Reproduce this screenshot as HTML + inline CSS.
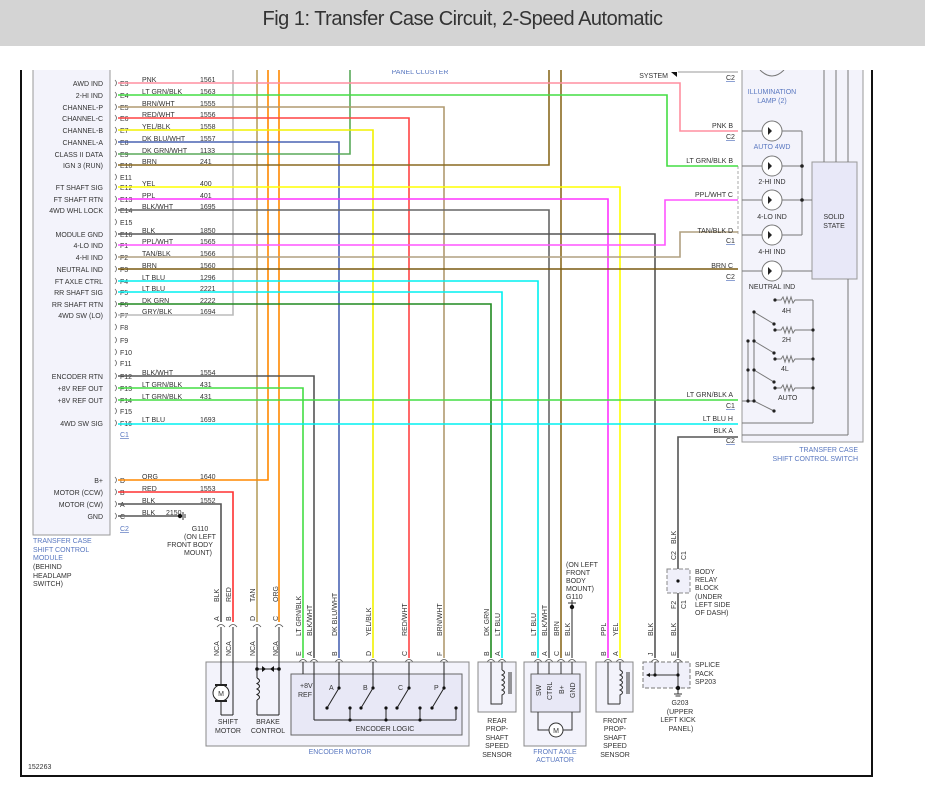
<!DOCTYPE html>
<html><head><meta charset="utf-8">
<style>
body{margin:0;width:925px;height:786px;background:#fff;overflow:hidden}
#hdr{position:absolute;left:0;top:0;width:925px;height:46px;background:#d4d4d4;text-align:center;font:20px "Liberation Sans",sans-serif;line-height:38px;color:#333;letter-spacing:-0.5px}
svg{position:absolute;left:0;top:0}
text{font-family:"Liberation Sans",sans-serif;font-size:7px;fill:#333}
.b{fill:#5a78c0}
.w{fill:none;stroke-width:1.6}
</style></head><body>
<div id="hdr">Fig 1: Transfer Case Circuit, 2-Speed Automatic</div>
<svg width="925" height="786" viewBox="0 0 925 786">
<defs><clipPath id="cp"><rect x="20" y="70" width="853" height="707"/></clipPath></defs>
<!-- frame -->
<line x1="21" y1="70" x2="21" y2="776" stroke="#111" stroke-width="2"/>
<line x1="20" y1="776" x2="873" y2="776" stroke="#111" stroke-width="2"/>
<line x1="872" y1="70" x2="872" y2="776" stroke="#111" stroke-width="2"/>
<g clip-path="url(#cp)">
<!-- left module -->
<rect x="33" y="60" width="77" height="475" fill="#f3f3fb" stroke="#999"/>
<!-- right switch box -->
<rect x="742" y="60" width="121" height="382" fill="#f3f3fb" stroke="#999"/>
<rect x="812" y="162" width="45" height="117" fill="#e8e8f8" stroke="#999"/>
<text x="834" y="219" text-anchor="middle">SOLID</text><text x="834" y="228" text-anchor="middle">STATE</text>
<g stroke="#777" fill="none">
<line x1="824" y1="60" x2="824" y2="162"/><line x1="836" y1="60" x2="836" y2="162"/><line x1="848" y1="60" x2="848" y2="162"/>
<line x1="848" y1="279" x2="848" y2="435"/><line x1="848" y1="435" x2="742" y2="435"/>
<line x1="742" y1="131" x2="802" y2="131"/><line x1="742" y1="166" x2="802" y2="166"/><line x1="742" y1="200" x2="812" y2="200"/><line x1="742" y1="235" x2="802" y2="235"/><line x1="742" y1="271" x2="812" y2="271"/>
<line x1="802" y1="131" x2="802" y2="235"/>
<circle cx="772" cy="131" r="10" fill="#fff"/><circle cx="772" cy="166" r="10" fill="#fff"/><circle cx="772" cy="200" r="10" fill="#fff"/><circle cx="772" cy="235" r="10" fill="#fff"/><circle cx="772" cy="271" r="10" fill="#fff"/>
<path d="M760 70 Q772 82 784 70"/>
<!-- switches -->
<line x1="813" y1="300" x2="813" y2="423"/><line x1="742" y1="423" x2="813" y2="423"/>
<path d="M775 300 H781 l2 -3 l2 6 l2 -6 l2 6 l2 -6 l2 6 l2 -3 H813"/>
<path d="M775 330 H781 l2 -3 l2 6 l2 -6 l2 6 l2 -6 l2 6 l2 -3 H813"/>
<path d="M775 359 H781 l2 -3 l2 6 l2 -6 l2 6 l2 -6 l2 6 l2 -3 H813"/>
<path d="M775 388 H781 l2 -3 l2 6 l2 -6 l2 6 l2 -6 l2 6 l2 -3 H813"/>
<line x1="748" y1="341" x2="748" y2="401"/><line x1="754" y1="312" x2="754" y2="401"/>
<line x1="754" y1="312" x2="774" y2="324"/><line x1="754" y1="341" x2="774" y2="353"/><line x1="754" y1="370" x2="774" y2="382"/><line x1="754" y1="401" x2="774" y2="411"/>
<line x1="742" y1="401" x2="754" y2="401"/>
</g>
<g fill="#222"><circle cx="802" cy="166" r="1.8"/><circle cx="802" cy="200" r="1.8"/>
<circle cx="775" cy="300" r="1.6"/><circle cx="775" cy="330" r="1.6"/><circle cx="775" cy="359" r="1.6"/><circle cx="775" cy="388" r="1.6"/>
<circle cx="813" cy="330" r="1.6"/><circle cx="813" cy="359" r="1.6"/><circle cx="813" cy="388" r="1.6"/>
<circle cx="754" cy="312" r="1.6"/><circle cx="748" cy="341" r="1.6"/><circle cx="754" cy="341" r="1.6"/><circle cx="748" cy="370" r="1.6"/><circle cx="754" cy="370" r="1.6"/><circle cx="748" cy="401" r="1.6"/><circle cx="754" cy="401" r="1.6"/>
<circle cx="774" cy="324" r="1.6"/><circle cx="774" cy="353" r="1.6"/><circle cx="774" cy="382" r="1.6"/><circle cx="774" cy="411" r="1.6"/>
<path d="M768 127 l4 4 l-4 4z M768 162 l4 4 l-4 4z M768 196 l4 4 l-4 4z M768 231 l4 4 l-4 4z M768 267 l4 4 l-4 4z"/>
</g>
<text class="b" x="772" y="94" text-anchor="middle">ILLUMINATION</text><text class="b" x="772" y="103" text-anchor="middle">LAMP (2)</text>
<text class="b" x="772" y="149" text-anchor="middle">AUTO 4WD</text>
<text x="772" y="184" text-anchor="middle">2-HI IND</text><text x="772" y="219" text-anchor="middle">4-LO IND</text><text x="772" y="254" text-anchor="middle">4-HI IND</text><text x="772" y="289" text-anchor="middle">NEUTRAL IND</text>
<text x="782" y="313">4H</text><text x="782" y="342">2H</text><text x="781" y="371">4L</text><text x="778" y="400">AUTO</text>
<text class="b" x="858" y="452" text-anchor="end">TRANSFER CASE</text><text class="b" x="858" y="461" text-anchor="end">SHIFT CONTROL SWITCH</text>
<line x1="738" y1="166" x2="738" y2="236" stroke="#aaa" stroke-dasharray="3,2"/>
<text class="b" x="420" y="74" text-anchor="middle">PANEL CLUSTER</text>
<text x="668" y="78" text-anchor="end">SYSTEM</text><path d="M671 72 h6 v5z" fill="#111"/>
<line x1="678" y1="72" x2="738" y2="72" stroke="#999"/>
<!-- left pin labels -->
<g text-anchor="end">
<text x="103" y="86">AWD IND</text><text x="103" y="98">2-HI IND</text><text x="103" y="110">CHANNEL-P</text><text x="103" y="121">CHANNEL-C</text><text x="103" y="133">CHANNEL-B</text><text x="103" y="145">CHANNEL-A</text><text x="103" y="157">CLASS II DATA</text><text x="103" y="168">IGN 3 (RUN)</text>
<text x="103" y="190">FT SHAFT SIG</text><text x="103" y="202">FT SHAFT RTN</text><text x="103" y="213">4WD WHL LOCK</text>
<text x="103" y="237">MODULE GND</text><text x="103" y="248">4-LO IND</text><text x="103" y="260">4-HI IND</text><text x="103" y="272">NEUTRAL IND</text><text x="103" y="284">FT AXLE CTRL</text><text x="103" y="295">RR SHAFT SIG</text><text x="103" y="307">RR SHAFT RTN</text><text x="103" y="318">4WD SW (LO)</text>
<text x="103" y="379">ENCODER RTN</text><text x="103" y="391">+8V REF OUT</text><text x="103" y="403">+8V REF OUT</text><text x="103" y="426">4WD SW SIG</text>
<text x="103" y="483">B+</text><text x="103" y="495">MOTOR (CCW)</text><text x="103" y="507">MOTOR (CW)</text><text x="103" y="519">GND</text>
</g>
<g>
<text x="120" y="86">E3</text><text x="120" y="98">E4</text><text x="120" y="110">E5</text><text x="120" y="121">E6</text><text x="120" y="133">E7</text><text x="120" y="145">E8</text><text x="120" y="157">E9</text><text x="120" y="168">E10</text><text x="120" y="180">E11</text><text x="120" y="190">E12</text><text x="120" y="202">E13</text><text x="120" y="213">E14</text><text x="120" y="225">E15</text><text x="120" y="237">E16</text>
<text x="120" y="248">F1</text><text x="120" y="260">F2</text><text x="120" y="272">F3</text><text x="120" y="284">F4</text><text x="120" y="295">F5</text><text x="120" y="307">F6</text><text x="120" y="318">F7</text><text x="120" y="330">F8</text><text x="120" y="343">F9</text><text x="120" y="355">F10</text><text x="120" y="366">F11</text><text x="120" y="379">F12</text><text x="120" y="391">F13</text><text x="120" y="403">F14</text><text x="120" y="414">F15</text><text x="120" y="426">F16</text>
<text class="b" x="120" y="437" text-decoration="underline">C1</text>
<text x="120" y="483">D</text><text x="120" y="495">B</text><text x="120" y="507">A</text><text x="120" y="519">C</text>
<text class="b" x="120" y="531" text-decoration="underline">C2</text>
</g>
<g fill="none" stroke="#666" stroke-width="0.8">
<path d="M115 80q3 3 0 6M115 92q3 3 0 6M115 104q3 3 0 6M115 115q3 3 0 6M115 127q3 3 0 6M115 139q3 3 0 6M115 151q3 3 0 6M115 162q3 3 0 6M115 174q3 3 0 6M115 184q3 3 0 6M115 196q3 3 0 6M115 207q3 3 0 6M115 219q3 3 0 6M115 231q3 3 0 6M115 242q3 3 0 6M115 254q3 3 0 6M115 266q3 3 0 6M115 278q3 3 0 6M115 289q3 3 0 6M115 301q3 3 0 6M115 312q3 3 0 6M115 324q3 3 0 6M115 337q3 3 0 6M115 349q3 3 0 6M115 360q3 3 0 6M115 373q3 3 0 6M115 385q3 3 0 6M115 397q3 3 0 6M115 408q3 3 0 6M115 420q3 3 0 6M115 477q3 3 0 6M115 489q3 3 0 6M115 501q3 3 0 6M115 513q3 3 0 6"/>
</g>
<!-- wire labels -->
<g>
<text x="142" y="82">PNK</text><text x="200" y="82">1561</text>
<text x="142" y="94">LT GRN/BLK</text><text x="200" y="94">1563</text>
<text x="142" y="106">BRN/WHT</text><text x="200" y="106">1555</text>
<text x="142" y="117">RED/WHT</text><text x="200" y="117">1556</text>
<text x="142" y="129">YEL/BLK</text><text x="200" y="129">1558</text>
<text x="142" y="141">DK BLU/WHT</text><text x="200" y="141">1557</text>
<text x="142" y="153">DK GRN/WHT</text><text x="200" y="153">1133</text>
<text x="142" y="164">BRN</text><text x="200" y="164">241</text>
<text x="142" y="186">YEL</text><text x="200" y="186">400</text>
<text x="142" y="198">PPL</text><text x="200" y="198">401</text>
<text x="142" y="209">BLK/WHT</text><text x="200" y="209">1695</text>
<text x="142" y="233">BLK</text><text x="200" y="233">1850</text>
<text x="142" y="244">PPL/WHT</text><text x="200" y="244">1565</text>
<text x="142" y="256">TAN/BLK</text><text x="200" y="256">1566</text>
<text x="142" y="268">BRN</text><text x="200" y="268">1560</text>
<text x="142" y="280">LT BLU</text><text x="200" y="280">1296</text>
<text x="142" y="291">LT BLU</text><text x="200" y="291">2221</text>
<text x="142" y="303">DK GRN</text><text x="200" y="303">2222</text>
<text x="142" y="314">GRY/BLK</text><text x="200" y="314">1694</text>
<text x="142" y="375">BLK/WHT</text><text x="200" y="375">1554</text>
<text x="142" y="387">LT GRN/BLK</text><text x="200" y="387">431</text>
<text x="142" y="399">LT GRN/BLK</text><text x="200" y="399">431</text>
<text x="142" y="422">LT BLU</text><text x="200" y="422">1693</text>
<text x="142" y="479">ORG</text><text x="200" y="479">1640</text>
<text x="142" y="491">RED</text><text x="200" y="491">1553</text>
<text x="142" y="503">BLK</text><text x="200" y="503">1552</text>
<text x="142" y="515">BLK</text><text x="166" y="515">2150</text>
</g>
<!-- wires -->
<g class="w">
<polyline stroke="#bbb" points="118,315 233,315 233,60"/>
<polyline stroke="#b8a060" points="257,60 257,622"/>
<polyline stroke="#ff8800" points="118,480 268,480 268,60"/>
<polyline stroke="#ff8800" points="279,60 279,622"/>
<polyline stroke="#ff3030" points="118,492 233,492 233,622"/>
<polyline stroke="#555" points="118,504 221,504 221,622"/>
<polyline stroke="#555" points="118,516 180,516"/>
<polyline stroke="#555" points="118,376 314,376 314,658"/>
<polyline stroke="#44dd44" points="118,388 303,388 303,658"/>
<polyline stroke="#4a64b4" points="118,142 339,142 339,658"/>
<polyline stroke="#5aaa5a" points="118,154 350,154 350,60"/>
<polyline stroke="#f2f200" points="118,130 373,130 373,658"/>
<polyline stroke="#ff4444" points="118,118 409,118 409,658"/>
<polyline stroke="#b09a70" points="118,107 444,107 444,658"/>
<polyline stroke="#208a20" points="118,304 491,304 491,658"/>
<polyline stroke="#00f0f0" points="118,292 502,292 502,658"/>
<polyline stroke="#00f0f0" points="118,281 538,281 538,658"/>
<polyline stroke="#666" points="118,210 549,210 549,658"/>
<polyline stroke="#8a6a20" points="118,165 549,165 549,60"/>
<polyline stroke="#8a6a20" points="561,60 561,658"/>
<polyline stroke="#777" points="572,600 572,658"/>
<polyline stroke="#ff33ff" points="118,199 608,199 608,658"/>
<polyline stroke="#ffff00" points="118,187 620,187 620,658"/>
<polyline stroke="#555" points="118,234 655,234 655,658"/>
<polyline stroke="#ff8fa0" points="118,83 680,83 680,131 738,131"/>
<polyline stroke="#44dd44" points="118,95 667,95 667,166 738,166"/>
<polyline stroke="#ff55ff" points="118,245 665,245 665,200 738,200"/>
<polyline stroke="#b0a080" points="118,257 680,257 680,232 738,232"/>
<polyline stroke="#7a5a10" points="118,269 738,269"/>
<polyline stroke="#44dd44" points="118,400 738,400"/>
<polyline stroke="#00f0f0" points="118,424 738,424"/>
<polyline stroke="#555" points="738,437 678,437 678,658"/>
</g>
<!-- right connector labels -->
<g text-anchor="end">
<text x="733" y="128">PNK  B</text><text x="733" y="163">LT GRN/BLK  B</text><text x="733" y="197">PPL/WHT  C</text><text x="733" y="233">TAN/BLK  D</text><text x="733" y="268">BRN  C</text>
<text x="733" y="397">LT GRN/BLK  A</text><text x="733" y="421">LT BLU  H</text><text x="733" y="433">BLK  A</text>
</g>
<g class="b" text-decoration="underline"><text x="726" y="80">C2</text><text x="726" y="139">C2</text><text x="726" y="243">C1</text><text x="726" y="279">C2</text><text x="726" y="408">C1</text><text x="726" y="443">C2</text></g>
<!-- G110 ground near module -->
<circle cx="180" cy="516" r="2.2" fill="#111"/><line x1="183" y1="512" x2="183" y2="520" stroke="#333"/><line x1="185" y1="514" x2="185" y2="518" stroke="#333"/>
<g text-anchor="middle"><text x="200" y="531">G110</text><text x="200" y="539">(ON LEFT</text><text x="190" y="547">FRONT BODY</text><text x="198" y="555">MOUNT)</text></g>
<text class="b" x="33" y="543">TRANSFER CASE</text><text class="b" x="33" y="552">SHIFT CONTROL</text><text class="b" x="33" y="560">MODULE</text>
<text x="33" y="569">(BEHIND</text><text x="33" y="578">HEADLAMP</text><text x="33" y="586">SWITCH)</text>
<!-- body relay block -->
<rect x="667" y="569" width="23" height="24" fill="#f0f0fa" stroke="#888" stroke-dasharray="4,2"/>
<circle cx="678" cy="581" r="1.6" fill="#111"/>
<g class="b"><text x="695" y="574">BODY</text><text x="695" y="582">RELAY</text><text x="695" y="590">BLOCK</text></g>
<g><text x="695" y="599">(UNDER</text><text x="695" y="607">LEFT SIDE</text><text x="695" y="615">OF DASH)</text></g>
<text transform="translate(676,560) rotate(-90)">C2</text><text transform="translate(686,560) rotate(-90)">C1</text>
<text transform="translate(676,609) rotate(-90)">F2</text><text transform="translate(686,609) rotate(-90)">C1</text>
<text transform="translate(676,544) rotate(-90)">BLK</text>
<!-- G110 mid -->
<g><text x="566" y="567">(ON LEFT</text><text x="566" y="575">FRONT</text><text x="566" y="583">BODY</text><text x="566" y="591">MOUNT)</text><text x="566" y="599">G110</text></g>
<line x1="568" y1="603" x2="576" y2="603" stroke="#333"/><circle cx="572" cy="607" r="2.2" fill="#111"/>
<!-- bottom rotated labels -->
<g>
<text transform="translate(219,602) rotate(-90)">BLK</text><text transform="translate(231,602) rotate(-90)">RED</text><text transform="translate(255,602) rotate(-90)">TAN</text><text transform="translate(278,602) rotate(-90)">ORG</text>
<text transform="translate(219,621) rotate(-90)">A</text><text transform="translate(231,621) rotate(-90)">B</text><text transform="translate(255,621) rotate(-90)">D</text><text transform="translate(278,621) rotate(-90)">C</text>
<text transform="translate(219,656) rotate(-90)">NCA</text><text transform="translate(231,656) rotate(-90)">NCA</text><text transform="translate(255,656) rotate(-90)">NCA</text><text transform="translate(278,656) rotate(-90)">NCA</text>
<text transform="translate(301,636) rotate(-90)">LT GRN/BLK</text><text transform="translate(312,636) rotate(-90)">BLK/WHT</text><text transform="translate(337,636) rotate(-90)">DK BLU/WHT</text><text transform="translate(371,636) rotate(-90)">YEL/BLK</text><text transform="translate(407,636) rotate(-90)">RED/WHT</text><text transform="translate(442,636) rotate(-90)">BRN/WHT</text>
<text transform="translate(489,636) rotate(-90)">DK GRN</text><text transform="translate(500,636) rotate(-90)">LT BLU</text>
<text transform="translate(536,636) rotate(-90)">LT BLU</text><text transform="translate(547,636) rotate(-90)">BLK/WHT</text><text transform="translate(559,636) rotate(-90)">BRN</text><text transform="translate(570,636) rotate(-90)">BLK</text>
<text transform="translate(606,636) rotate(-90)">PPL</text><text transform="translate(618,636) rotate(-90)">YEL</text>
<text transform="translate(653,636) rotate(-90)">BLK</text><text transform="translate(676,636) rotate(-90)">BLK</text>
<text transform="translate(301,656) rotate(-90)">E</text><text transform="translate(312,656) rotate(-90)">A</text><text transform="translate(337,656) rotate(-90)">B</text><text transform="translate(371,656) rotate(-90)">D</text><text transform="translate(407,656) rotate(-90)">C</text><text transform="translate(442,656) rotate(-90)">F</text>
<text transform="translate(489,656) rotate(-90)">B</text><text transform="translate(500,656) rotate(-90)">A</text><text transform="translate(536,656) rotate(-90)">B</text><text transform="translate(547,656) rotate(-90)">A</text><text transform="translate(559,656) rotate(-90)">C</text><text transform="translate(570,656) rotate(-90)">E</text>
<text transform="translate(606,656) rotate(-90)">B</text><text transform="translate(618,656) rotate(-90)">A</text><text transform="translate(653,656) rotate(-90)">J</text><text transform="translate(676,656) rotate(-90)">E</text>
</g>
<!-- connector chevrons -->
<g fill="none" stroke="#555" stroke-width="0.8">
<path d="M217 627q4-5 8 0M229 627q4-5 8 0M253 627q4-5 8 0M275 627q4-5 8 0"/>
<path d="M299 662q4-5 8 0M310 662q4-5 8 0M335 662q4-5 8 0M369 662q4-5 8 0M405 662q4-5 8 0M440 662q4-5 8 0M487 662q4-5 8 0M498 662q4-5 8 0M534 662q4-5 8 0M545 662q4-5 8 0M557 662q4-5 8 0M568 662q4-5 8 0M604 662q4-5 8 0M616 662q4-5 8 0M651 662q4-5 8 0M674 662q4-5 8 0"/>
</g>
<!-- encoder motor -->
<rect x="206" y="662" width="263" height="84" fill="#f3f3fb" stroke="#888"/>
<rect x="291" y="674" width="171" height="61" fill="#e8e8f6" stroke="#666"/>
<g stroke="#222" fill="none" stroke-width="1">
<line x1="221" y1="627" x2="221" y2="685"/><line x1="233" y1="627" x2="233" y2="715"/><line x1="221" y1="701" x2="221" y2="715"/><line x1="221" y1="715" x2="233" y2="715"/>
<line x1="257" y1="627" x2="257" y2="678"/><line x1="279" y1="627" x2="279" y2="715"/><line x1="257" y1="700" x2="257" y2="715"/><line x1="257" y1="715" x2="279" y2="715"/>
<line x1="257" y1="669" x2="279" y2="669"/>
<path d="M257 678 q5 2.75 0 5.5 q5 2.75 0 5.5 q5 2.75 0 5.5 q5 2.75 0 5.5"/>
<line x1="303" y1="662" x2="303" y2="674"/><line x1="314" y1="662" x2="314" y2="720"/><line x1="314" y1="720" x2="456" y2="720"/><line x1="456" y1="708" x2="456" y2="720"/>
<line x1="339" y1="662" x2="339" y2="688"/><line x1="339" y1="688" x2="327" y2="708"/><line x1="350" y1="708" x2="350" y2="720"/>
<line x1="373" y1="662" x2="373" y2="688"/><line x1="373" y1="688" x2="361" y2="708"/><line x1="386" y1="708" x2="386" y2="720"/>
<line x1="409" y1="662" x2="409" y2="688"/><line x1="409" y1="688" x2="397" y2="708"/><line x1="420" y1="708" x2="420" y2="720"/>
<line x1="444" y1="662" x2="444" y2="688"/><line x1="444" y1="688" x2="432" y2="708"/>
</g>
<circle cx="221" cy="693" r="8" fill="#fff" stroke="#222"/><text x="221" y="696" text-anchor="middle">M</text>
<rect x="215" y="684" width="12" height="2" fill="#222"/><rect x="215" y="700" width="12" height="2" fill="#222"/>
<g fill="#111"><circle cx="257" cy="669" r="1.8"/><circle cx="279" cy="669" r="1.8"/><path d="M262 666v6l4-3z"/><path d="M274 666v6l-4-3z"/>
<circle cx="339" cy="688" r="1.6"/><circle cx="327" cy="708" r="1.6"/><circle cx="350" cy="708" r="1.6"/><circle cx="350" cy="720" r="1.6"/>
<circle cx="373" cy="688" r="1.6"/><circle cx="361" cy="708" r="1.6"/><circle cx="386" cy="708" r="1.6"/><circle cx="386" cy="720" r="1.6"/>
<circle cx="409" cy="688" r="1.6"/><circle cx="397" cy="708" r="1.6"/><circle cx="420" cy="708" r="1.6"/><circle cx="420" cy="720" r="1.6"/>
<circle cx="444" cy="688" r="1.6"/><circle cx="432" cy="708" r="1.6"/><circle cx="456" cy="708" r="1.6"/></g>
<text x="300" y="688" font-size="7.5">+8V</text><text x="298" y="697">REF</text>
<text x="329" y="690">A</text><text x="363" y="690">B</text><text x="398" y="690">C</text><text x="434" y="690">P</text>
<text x="385" y="731" text-anchor="middle">ENCODER LOGIC</text>
<g text-anchor="middle"><text x="228" y="724">SHIFT</text><text x="228" y="733">MOTOR</text><text x="268" y="724">BRAKE</text><text x="268" y="733">CONTROL</text></g>
<text class="b" x="340" y="754" text-anchor="middle">ENCODER MOTOR</text>
<!-- rear prop -->
<rect x="478" y="662" width="38" height="50" fill="#f3f3fb" stroke="#888"/>
<g stroke="#333" fill="none"><polyline points="491,662 491,704 502,704"/><polyline points="502,662 502,670"/><path d="M502 670 q5 2.5 0 5 q5 2.5 0 5 q5 2.5 0 5 q5 2.5 0 5 q5 2.5 0 5 v9"/><line x1="509" y1="672" x2="509" y2="694"/><line x1="511" y1="672" x2="511" y2="694"/></g>
<g text-anchor="middle"><text x="497" y="723">REAR</text><text x="497" y="731">PROP-</text><text x="497" y="740">SHAFT</text><text x="497" y="748">SPEED</text><text x="497" y="757">SENSOR</text></g>
<!-- front axle -->
<rect x="524" y="662" width="62" height="84" fill="#f3f3fb" stroke="#888"/>
<rect x="531" y="674" width="49" height="38" fill="#e8e8f6" stroke="#666"/>
<g stroke="#333"><line x1="538" y1="662" x2="538" y2="674"/><line x1="549" y1="662" x2="549" y2="674"/><line x1="561" y1="662" x2="561" y2="674"/><line x1="572" y1="662" x2="572" y2="674"/>
<polyline fill="none" points="538,712 538,730 549,730"/><polyline fill="none" points="572,712 572,730 563,730"/></g>
<circle cx="556" cy="730" r="7" fill="#fff" stroke="#333"/><text x="556" y="733" text-anchor="middle">M</text>
<text transform="translate(541,696) rotate(-90)">SW</text><text transform="translate(552,700) rotate(-90)">CTRL</text><text transform="translate(564,694) rotate(-90)">B+</text><text transform="translate(575,698) rotate(-90)">GND</text>
<text class="b" x="555" y="754" text-anchor="middle">FRONT AXLE</text><text class="b" x="555" y="762" text-anchor="middle">ACTUATOR</text>
<!-- front prop -->
<rect x="596" y="662" width="37" height="50" fill="#f3f3fb" stroke="#888"/>
<g stroke="#333" fill="none"><polyline points="608,662 608,704 620,704"/><polyline points="620,662 620,670"/><path d="M620 670 q5 2.5 0 5 q5 2.5 0 5 q5 2.5 0 5 q5 2.5 0 5 q5 2.5 0 5 v9"/><line x1="627" y1="672" x2="627" y2="694"/><line x1="629" y1="672" x2="629" y2="694"/></g>
<g text-anchor="middle"><text x="615" y="723">FRONT</text><text x="615" y="731">PROP-</text><text x="615" y="740">SHAFT</text><text x="615" y="748">SPEED</text><text x="615" y="757">SENSOR</text></g>
<!-- splice pack -->
<rect x="643" y="662" width="47" height="26" fill="#f0f0fa" stroke="#777" stroke-dasharray="4,2"/>
<g stroke="#333"><line x1="655" y1="662" x2="655" y2="675"/><line x1="678" y1="662" x2="678" y2="688"/><line x1="647" y1="675" x2="678" y2="675"/><line x1="678" y1="688" x2="678" y2="694"/><line x1="674" y1="694" x2="682" y2="694"/><line x1="675.5" y1="696" x2="680.5" y2="696"/></g>
<g fill="#111"><circle cx="655" cy="675" r="1.6"/><circle cx="678" cy="675" r="1.6"/><circle cx="678" cy="688" r="2.2"/><path d="M646 675l4-2v4z"/></g>
<g class="b"><text x="695" y="667">SPLICE</text><text x="695" y="676">PACK</text><text x="695" y="684">SP203</text></g>
<g text-anchor="middle"><text x="680" y="705">G203</text><text x="680" y="714">(UPPER</text><text x="678" y="722">LEFT KICK</text><text x="681" y="731">PANEL)</text></g>
<text x="28" y="769" font-size="6.5">152263</text>
</g>
</svg>
</body></html>
